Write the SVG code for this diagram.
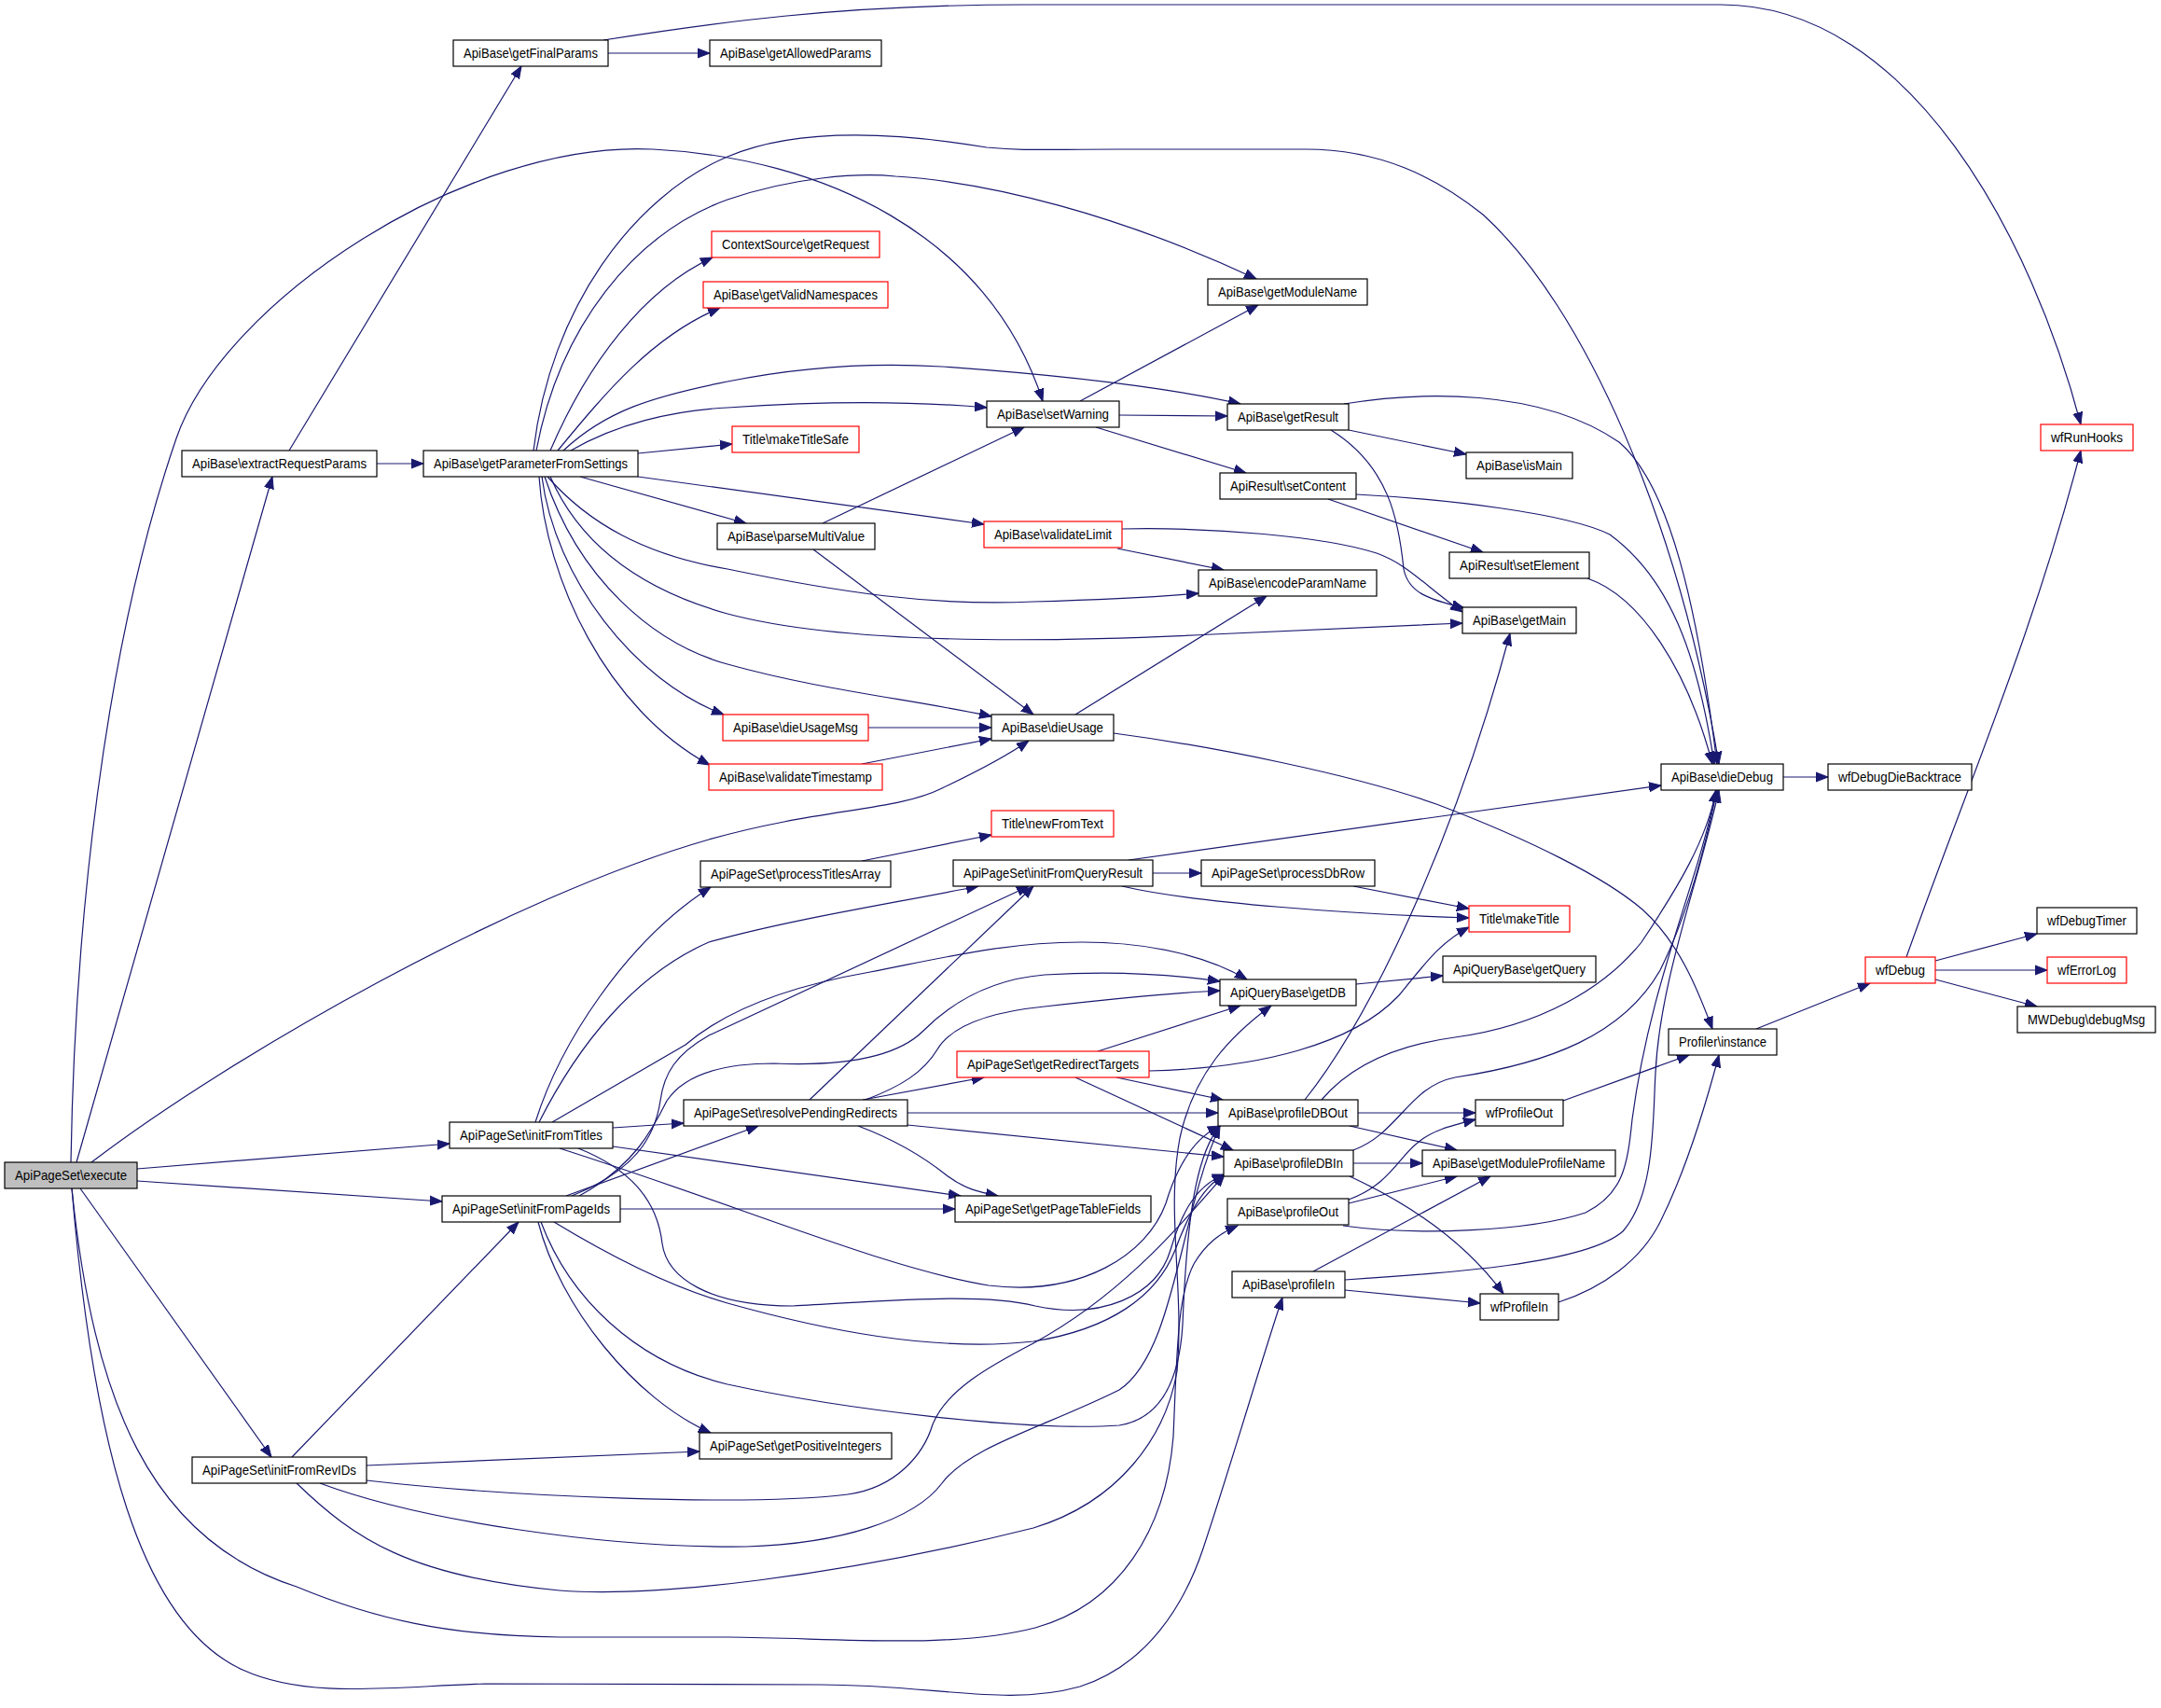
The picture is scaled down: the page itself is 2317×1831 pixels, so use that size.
<svg xmlns="http://www.w3.org/2000/svg" width="2317" height="1831" viewBox="0 0 2317 1831">
<style>
.node rect{fill:#fff;stroke:#000;stroke-width:1.2}
.node.red rect{stroke:#ff0000}
.node.root rect{fill:#bfbfbf}
.node text{font-family:"Liberation Sans",Arial,Helvetica,sans-serif;font-size:15px;text-anchor:middle;fill:#000}
#edges path{fill:none;stroke:#191970;stroke-width:1.2;marker-end:url(#arr)}
</style>
<defs>
<marker id="arr" markerUnits="userSpaceOnUse" markerWidth="16" markerHeight="12" refX="13" refY="6" orient="auto"><path d="M0,1 L13,6 L0,11 Z" fill="#191970" stroke="#191970" stroke-width="1"/></marker>
</defs>
<rect x="0" y="0" width="2317" height="1831" fill="#fff"/>
<g id="edges">
<path d="M652,57 L761,57"/>
<path d="M647,43 C760,25 900,5 1100,5 L1845,5 C2050,5 2180,260 2231,455"/>
<path d="M310,483 L559,71"/>
<path d="M404,497 L454,497"/>
<path d="M82,1246 L292,511"/>
<path d="M76,1246 C80,1000 110,700 189,470 C239,324 500,150 700,160 C880,169 1060,250 1118,430"/>
<path d="M98,1246 C250,1130 550,960 760,900 C880,866 960,870 1010,845 C1050,826 1080,810 1103,794"/>
<path d="M147,1253 L482,1226"/>
<path d="M147,1266 L474,1288"/>
<path d="M86,1274 L291,1562"/>
<path d="M77,1274 C100,1500 160,1650 318,1701 C400,1735 480,1754 600,1755 L780,1755 C900,1756 1020,1768 1110,1745 C1200,1720 1250,1640 1258,1540 C1262,1450 1262,1390 1280,1355 C1293,1333 1308,1322 1327,1314"/>
<path d="M77,1274 C100,1550 150,1740 260,1790 C330,1822 420,1808 520,1805 L880,1806 C1000,1806 1080,1830 1158,1808 C1230,1785 1270,1720 1290,1660 C1320,1570 1355,1450 1375,1391"/>
<path d="M572,483 C590,330 680,210 780,168 C850,138 950,140 1058,158 C1100,162 1120,160 1200,160 L1400,160 C1480,160 1540,190 1590,230 C1700,330 1800,560 1843,819"/>
<path d="M575,483 C600,350 680,250 780,214 C850,190 920,185 960,189 C1060,195 1200,230 1347,299"/>
<path d="M590,483 C630,390 690,310 764,276"/>
<path d="M598,483 C650,420 700,360 772,330"/>
<path d="M604,483 C650,440 700,425 780,409 C850,395 930,388 1010,393 C1150,403 1250,415 1330,433"/>
<path d="M612,483 C660,455 720,440 780,437 C880,430 980,430 1058,437"/>
<path d="M684,486 L785,476"/>
<path d="M684,511 L1055,562"/>
<path d="M622,511 L800,561"/>
<path d="M587,511 C630,560 690,595 780,610 C900,635 1000,650 1108,645 C1180,643 1240,640 1285,636"/>
<path d="M590,511 C620,580 680,630 780,658 C900,690 1100,690 1300,680 L1568,668"/>
<path d="M578,511 C585,620 650,760 761,820"/>
<path d="M581,511 C595,620 680,730 776,766"/>
<path d="M584,511 C620,620 700,690 780,712 C880,740 980,750 1063,768"/>
<path d="M1158,430 L1349,327"/>
<path d="M1200,445 L1316,446"/>
<path d="M1175,458 L1336,507"/>
<path d="M1441,433 C1520,420 1650,415 1736,474 C1790,520 1820,650 1841,819"/>
<path d="M1454,530 C1550,535 1680,550 1726,573 C1790,620 1820,700 1838,819"/>
<path d="M1702,620 C1760,640 1810,720 1836,819"/>
<path d="M1446,461 L1572,487"/>
<path d="M1427,461 C1490,500 1500,560 1505,610 C1510,635 1530,642 1570,652"/>
<path d="M1203,567 C1300,565 1420,575 1476,593 C1510,605 1530,630 1568,656"/>
<path d="M1198,588 L1312,611"/>
<path d="M1424,535 L1590,592"/>
<path d="M882,561 L1098,458"/>
<path d="M872,589 L1108,766"/>
<path d="M931,780 L1063,780"/>
<path d="M924,819 L1063,792"/>
<path d="M1153,766 L1358,639"/>
<path d="M1194,786 C1300,800 1450,830 1540,862 C1640,900 1720,940 1761,975 C1800,1010 1820,1060 1836,1103"/>
<path d="M1912,833 L1960,833"/>
<path d="M1210,922 L1781,842"/>
<path d="M1236,936 L1288,936"/>
<path d="M1203,950 C1280,968 1450,980 1575,984"/>
<path d="M1451,950 L1575,974"/>
<path d="M1232,1148 C1350,1145 1450,1120 1500,1067 C1530,1030 1545,1010 1575,994"/>
<path d="M924,923 L1063,895"/>
<path d="M1454,1055 L1547,1046"/>
<path d="M1177,1127 L1330,1078"/>
<path d="M1197,1155 L1311,1179"/>
<path d="M1153,1155 L1322,1233"/>
<path d="M973,1193 L1306,1193"/>
<path d="M973,1206 L1312,1240"/>
<path d="M925,1179 L1055,1155"/>
<path d="M868,1179 L1108,950"/>
<path d="M928,1179 C965,1165 990,1150 1005,1125 C1020,1100 1060,1085 1120,1079 C1200,1070 1260,1064 1308,1062"/>
<path d="M920,1207 C960,1222 990,1240 1015,1260 C1035,1275 1050,1278 1070,1282"/>
<path d="M657,1209 L733,1204"/>
<path d="M657,1229 L1030,1282"/>
<path d="M574,1203 C600,1120 670,1010 762,951"/>
<path d="M578,1203 C620,1120 680,1045 760,1010 C850,985 960,968 1049,950"/>
<path d="M592,1203 L735,1120 C770,1090 830,1060 933,1042 C1020,1025 1080,1010 1160,1010 C1240,1010 1300,1028 1337,1050"/>
<path d="M613,1282 C680,1255 702,1220 708,1180 C712,1150 725,1130 760,1110 L1103,950"/>
<path d="M621,1282 C680,1250 700,1210 715,1180 C735,1150 780,1140 830,1140 C900,1143 960,1135 990,1105 C1020,1075 1060,1050 1120,1045 C1200,1040 1260,1045 1308,1052"/>
<path d="M600,1231 C800,1295 950,1360 1060,1378 C1160,1390 1230,1345 1250,1290 C1262,1250 1280,1220 1308,1207"/>
<path d="M620,1231 C680,1255 705,1290 710,1333 C715,1370 760,1400 850,1400 C950,1395 1050,1385 1110,1400 C1180,1415 1240,1390 1255,1340 C1268,1295 1285,1270 1313,1259"/>
<path d="M665,1296 L1024,1296"/>
<path d="M607,1282 L813,1207"/>
<path d="M577,1310 C600,1400 680,1500 762,1536"/>
<path d="M580,1310 C610,1390 680,1460 780,1484 C900,1510 1100,1535 1200,1528 C1250,1520 1265,1470 1268,1420 C1272,1320 1280,1240 1308,1207"/>
<path d="M594,1310 C660,1350 720,1380 780,1397 C880,1425 1000,1450 1108,1438 C1190,1425 1240,1390 1260,1340 C1275,1300 1290,1272 1313,1259"/>
<path d="M313,1562 L556,1310"/>
<path d="M393,1571 L750,1556"/>
<path d="M318,1590 C380,1650 440,1690 600,1705 C700,1713 900,1690 1108,1638 C1200,1610 1250,1540 1262,1470 C1270,1380 1250,1300 1265,1220 C1280,1150 1320,1110 1363,1078"/>
<path d="M343,1590 C450,1630 650,1660 800,1658 C900,1655 980,1630 1010,1590 C1040,1550 1120,1530 1200,1490 C1260,1450 1265,1300 1308,1207"/>
<path d="M393,1587 C550,1605 800,1615 909,1602 C960,1595 990,1560 1000,1527 C1015,1490 1060,1465 1108,1440 C1200,1390 1260,1320 1313,1259"/>
<path d="M1399,1179 C1470,1090 1560,900 1619,679"/>
<path d="M1417,1179 C1450,1140 1500,1120 1560,1112 C1650,1100 1720,1060 1760,1010 C1800,950 1830,900 1840,847"/>
<path d="M1456,1193 L1582,1193"/>
<path d="M1447,1207 L1562,1233"/>
<path d="M1451,1247 L1525,1247"/>
<path d="M1451,1233 C1500,1215 1510,1165 1560,1155 C1660,1140 1740,1110 1780,1040 C1810,980 1830,900 1841,847"/>
<path d="M1447,1261 C1510,1290 1570,1330 1612,1387"/>
<path d="M1446,1286 C1490,1270 1500,1240 1520,1225 C1535,1212 1555,1207 1582,1200"/>
<path d="M1446,1290 L1562,1261"/>
<path d="M1440,1314 C1520,1325 1640,1320 1700,1300 C1740,1280 1745,1250 1750,1200 C1770,1050 1820,950 1840,847"/>
<path d="M1408,1363 L1598,1261"/>
<path d="M1442,1372 C1550,1365 1700,1355 1740,1320 C1775,1280 1772,1200 1775,1150 C1780,1050 1820,950 1843,847"/>
<path d="M1442,1383 L1587,1397"/>
<path d="M1676,1180 L1811,1131"/>
<path d="M1671,1396 C1720,1380 1760,1350 1780,1310 C1810,1250 1830,1180 1843,1131"/>
<path d="M1883,1103 L2005,1054"/>
<path d="M2044,1026 C2110,840 2180,680 2231,483"/>
<path d="M2075,1030 L2184,1001"/>
<path d="M2075,1040 L2195,1040"/>
<path d="M2075,1050 L2184,1079"/>
</g>
<g id="n_execute" class="node root"><rect x="5" y="1246" width="142" height="28"/><text x="76" y="1265.3" textLength="120" lengthAdjust="spacingAndGlyphs">ApiPageSet\execute</text></g>
<g id="n_extractRequestParams" class="node"><rect x="195" y="483" width="209" height="28"/><text x="299.5" y="502.3" textLength="187" lengthAdjust="spacingAndGlyphs">ApiBase\extractRequestParams</text></g>
<g id="n_getFinalParams" class="node"><rect x="486" y="43" width="166" height="28"/><text x="569" y="62.3" textLength="144" lengthAdjust="spacingAndGlyphs">ApiBase\getFinalParams</text></g>
<g id="n_getAllowedParams" class="node"><rect x="761" y="43" width="184" height="28"/><text x="853" y="62.3" textLength="162" lengthAdjust="spacingAndGlyphs">ApiBase\getAllowedParams</text></g>
<g id="n_getParameterFromSettings" class="node"><rect x="454" y="483" width="230" height="28"/><text x="569" y="502.3" textLength="208" lengthAdjust="spacingAndGlyphs">ApiBase\getParameterFromSettings</text></g>
<g id="n_getRequest" class="node red"><rect x="763" y="248" width="180" height="28"/><text x="853" y="267.3" textLength="158" lengthAdjust="spacingAndGlyphs">ContextSource\getRequest</text></g>
<g id="n_getValidNamespaces" class="node red"><rect x="754" y="302" width="198" height="28"/><text x="853" y="321.3" textLength="176" lengthAdjust="spacingAndGlyphs">ApiBase\getValidNamespaces</text></g>
<g id="n_getModuleName" class="node"><rect x="1295" y="299" width="171" height="28"/><text x="1380.5" y="318.3" textLength="149" lengthAdjust="spacingAndGlyphs">ApiBase\getModuleName</text></g>
<g id="n_setWarning" class="node"><rect x="1058" y="430" width="142" height="28"/><text x="1129" y="449.3" textLength="120" lengthAdjust="spacingAndGlyphs">ApiBase\setWarning</text></g>
<g id="n_getResult" class="node"><rect x="1316" y="433" width="130" height="28"/><text x="1381" y="452.3" textLength="108" lengthAdjust="spacingAndGlyphs">ApiBase\getResult</text></g>
<g id="n_makeTitleSafe" class="node red"><rect x="785" y="457" width="136" height="28"/><text x="853" y="476.3" textLength="114" lengthAdjust="spacingAndGlyphs">Title\makeTitleSafe</text></g>
<g id="n_setContent" class="node"><rect x="1308" y="507" width="146" height="28"/><text x="1381" y="526.3" textLength="124" lengthAdjust="spacingAndGlyphs">ApiResult\setContent</text></g>
<g id="n_parseMultiValue" class="node"><rect x="769" y="561" width="169" height="28"/><text x="853.5" y="580.3" textLength="147" lengthAdjust="spacingAndGlyphs">ApiBase\parseMultiValue</text></g>
<g id="n_validateLimit" class="node red"><rect x="1055" y="559" width="148" height="28"/><text x="1129" y="578.3" textLength="126" lengthAdjust="spacingAndGlyphs">ApiBase\validateLimit</text></g>
<g id="n_encodeParamName" class="node"><rect x="1285" y="611" width="191" height="28"/><text x="1380.5" y="630.3" textLength="169" lengthAdjust="spacingAndGlyphs">ApiBase\encodeParamName</text></g>
<g id="n_wfRunHooks" class="node red"><rect x="2188" y="455" width="99" height="28"/><text x="2237.5" y="474.3" textLength="77" lengthAdjust="spacingAndGlyphs">wfRunHooks</text></g>
<g id="n_isMain" class="node"><rect x="1572" y="485" width="114" height="28"/><text x="1629" y="504.3" textLength="92" lengthAdjust="spacingAndGlyphs">ApiBase\isMain</text></g>
<g id="n_setElement" class="node"><rect x="1554" y="592" width="150" height="28"/><text x="1629" y="611.3" textLength="128" lengthAdjust="spacingAndGlyphs">ApiResult\setElement</text></g>
<g id="n_getMain" class="node"><rect x="1568" y="651" width="122" height="28"/><text x="1629" y="670.3" textLength="100" lengthAdjust="spacingAndGlyphs">ApiBase\getMain</text></g>
<g id="n_dieDebug" class="node"><rect x="1781" y="819" width="131" height="28"/><text x="1846.5" y="838.3" textLength="109" lengthAdjust="spacingAndGlyphs">ApiBase\dieDebug</text></g>
<g id="n_wfDebugDieBacktrace" class="node"><rect x="1960" y="819" width="154" height="28"/><text x="2037" y="838.3" textLength="132" lengthAdjust="spacingAndGlyphs">wfDebugDieBacktrace</text></g>
<g id="n_dieUsageMsg" class="node red"><rect x="775" y="766" width="156" height="28"/><text x="853" y="785.3" textLength="134" lengthAdjust="spacingAndGlyphs">ApiBase\dieUsageMsg</text></g>
<g id="n_dieUsage" class="node"><rect x="1063" y="766" width="131" height="28"/><text x="1128.5" y="785.3" textLength="109" lengthAdjust="spacingAndGlyphs">ApiBase\dieUsage</text></g>
<g id="n_validateTimestamp" class="node red"><rect x="760" y="819" width="186" height="28"/><text x="853" y="838.3" textLength="164" lengthAdjust="spacingAndGlyphs">ApiBase\validateTimestamp</text></g>
<g id="n_newFromText" class="node red"><rect x="1063" y="869" width="131" height="28"/><text x="1128.5" y="888.3" textLength="109" lengthAdjust="spacingAndGlyphs">Title\newFromText</text></g>
<g id="n_processTitlesArray" class="node"><rect x="751" y="923" width="204" height="28"/><text x="853" y="942.3" textLength="182" lengthAdjust="spacingAndGlyphs">ApiPageSet\processTitlesArray</text></g>
<g id="n_initFromQueryResult" class="node"><rect x="1022" y="922" width="214" height="28"/><text x="1129" y="941.3" textLength="192" lengthAdjust="spacingAndGlyphs">ApiPageSet\initFromQueryResult</text></g>
<g id="n_processDbRow" class="node"><rect x="1288" y="922" width="186" height="28"/><text x="1381" y="941.3" textLength="164" lengthAdjust="spacingAndGlyphs">ApiPageSet\processDbRow</text></g>
<g id="n_makeTitle" class="node red"><rect x="1575" y="971" width="108" height="28"/><text x="1629" y="990.3" textLength="86" lengthAdjust="spacingAndGlyphs">Title\makeTitle</text></g>
<g id="n_getQuery" class="node"><rect x="1547" y="1025" width="164" height="28"/><text x="1629" y="1044.3" textLength="142" lengthAdjust="spacingAndGlyphs">ApiQueryBase\getQuery</text></g>
<g id="n_wfDebugTimer" class="node"><rect x="2184" y="973" width="107" height="28"/><text x="2237.5" y="992.3" textLength="85" lengthAdjust="spacingAndGlyphs">wfDebugTimer</text></g>
<g id="n_wfDebug" class="node red"><rect x="2000" y="1026" width="75" height="28"/><text x="2037.5" y="1045.3" textLength="53" lengthAdjust="spacingAndGlyphs">wfDebug</text></g>
<g id="n_wfErrorLog" class="node red"><rect x="2195" y="1026" width="85" height="28"/><text x="2237.5" y="1045.3" textLength="63" lengthAdjust="spacingAndGlyphs">wfErrorLog</text></g>
<g id="n_debugMsg" class="node"><rect x="2163" y="1079" width="148" height="28"/><text x="2237" y="1098.3" textLength="126" lengthAdjust="spacingAndGlyphs">MWDebug\debugMsg</text></g>
<g id="n_getDB" class="node"><rect x="1308" y="1050" width="146" height="28"/><text x="1381" y="1069.3" textLength="124" lengthAdjust="spacingAndGlyphs">ApiQueryBase\getDB</text></g>
<g id="n_getRedirectTargets" class="node red"><rect x="1026" y="1127" width="206" height="28"/><text x="1129" y="1146.3" textLength="184" lengthAdjust="spacingAndGlyphs">ApiPageSet\getRedirectTargets</text></g>
<g id="n_ProfilerInstance" class="node"><rect x="1789" y="1103" width="116" height="28"/><text x="1847" y="1122.3" textLength="94" lengthAdjust="spacingAndGlyphs">Profiler\instance</text></g>
<g id="n_resolvePendingRedirects" class="node"><rect x="733" y="1179" width="240" height="28"/><text x="853" y="1198.3" textLength="218" lengthAdjust="spacingAndGlyphs">ApiPageSet\resolvePendingRedirects</text></g>
<g id="n_profileDBOut" class="node"><rect x="1306" y="1179" width="150" height="28"/><text x="1381" y="1198.3" textLength="128" lengthAdjust="spacingAndGlyphs">ApiBase\profileDBOut</text></g>
<g id="n_wfProfileOut" class="node"><rect x="1582" y="1179" width="94" height="28"/><text x="1629" y="1198.3" textLength="72" lengthAdjust="spacingAndGlyphs">wfProfileOut</text></g>
<g id="n_initFromTitles" class="node"><rect x="482" y="1203" width="175" height="28"/><text x="569.5" y="1222.3" textLength="153" lengthAdjust="spacingAndGlyphs">ApiPageSet\initFromTitles</text></g>
<g id="n_profileDBIn" class="node"><rect x="1312" y="1233" width="139" height="28"/><text x="1381.5" y="1252.3" textLength="117" lengthAdjust="spacingAndGlyphs">ApiBase\profileDBIn</text></g>
<g id="n_getModuleProfileName" class="node"><rect x="1525" y="1233" width="207" height="28"/><text x="1628.5" y="1252.3" textLength="185" lengthAdjust="spacingAndGlyphs">ApiBase\getModuleProfileName</text></g>
<g id="n_getPageTableFields" class="node"><rect x="1024" y="1282" width="210" height="28"/><text x="1129" y="1301.3" textLength="188" lengthAdjust="spacingAndGlyphs">ApiPageSet\getPageTableFields</text></g>
<g id="n_initFromPageIds" class="node"><rect x="474" y="1282" width="191" height="28"/><text x="569.5" y="1301.3" textLength="169" lengthAdjust="spacingAndGlyphs">ApiPageSet\initFromPageIds</text></g>
<g id="n_profileOut" class="node"><rect x="1316" y="1285" width="130" height="28"/><text x="1381" y="1304.3" textLength="108" lengthAdjust="spacingAndGlyphs">ApiBase\profileOut</text></g>
<g id="n_profileIn" class="node"><rect x="1321" y="1363" width="121" height="28"/><text x="1381.5" y="1382.3" textLength="99" lengthAdjust="spacingAndGlyphs">ApiBase\profileIn</text></g>
<g id="n_wfProfileIn" class="node"><rect x="1587" y="1387" width="84" height="28"/><text x="1629" y="1406.3" textLength="62" lengthAdjust="spacingAndGlyphs">wfProfileIn</text></g>
<g id="n_getPositiveIntegers" class="node"><rect x="750" y="1536" width="206" height="28"/><text x="853" y="1555.3" textLength="184" lengthAdjust="spacingAndGlyphs">ApiPageSet\getPositiveIntegers</text></g>
<g id="n_initFromRevIDs" class="node"><rect x="206" y="1562" width="187" height="28"/><text x="299.5" y="1581.3" textLength="165" lengthAdjust="spacingAndGlyphs">ApiPageSet\initFromRevIDs</text></g>
</svg>
